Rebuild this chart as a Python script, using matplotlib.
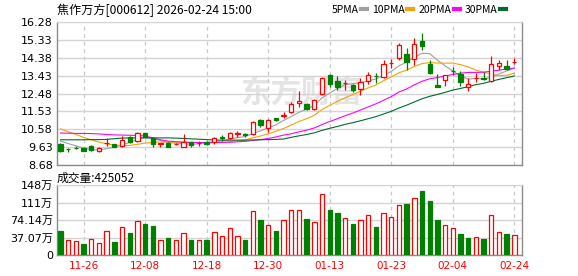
import matplotlib
matplotlib.use("Agg")
import matplotlib.pyplot as plt
import numpy as np

plt.rcParams['font.family'] = ['DejaVu Sans', 'Noto Sans CJK SC']

# trading days shown (MM-DD)
dates = ['11-21', '11-24', '11-25', '11-26', '11-27', '11-28', '12-01', '12-02', '12-03', '12-04',
         '12-05', '12-08', '12-09', '12-10', '12-11', '12-12', '12-15', '12-16', '12-17', '12-18',
         '12-19', '12-22', '12-23', '12-24', '12-25', '12-26', '12-29', '12-30', '12-31', '01-05',
         '01-06', '01-07', '01-08', '01-09', '01-12', '01-13', '01-14', '01-15', '01-16', '01-19',
         '01-20', '01-21', '01-22', '01-23', '01-26', '01-27', '01-28', '01-29', '01-30', '02-02',
         '02-03', '02-04', '02-05', '02-06', '02-09', '02-10', '02-11', '02-12', '02-13', '02-24']

opens = [9.82, 9.53, 9.60, 9.56, 9.68, 9.43, 9.84, 9.79, 9.71, 10.18,
         9.95, 10.36, 10.14, 9.82, 9.86, 9.80, 9.66, 9.88, 9.84, 9.92,
         9.91, 10.15, 10.14, 10.34, 10.32, 10.32, 11.06, 10.62, 11.16, 11.30,
         11.50, 11.95, 11.91, 11.63, 12.44, 13.45, 13.15, 13.02, 12.92, 12.72,
         13.16, 13.43, 13.34, 14.08, 14.35, 14.57, 14.34, 15.27, 14.03, 12.93,
         13.19, 13.70, 13.50, 12.80, 13.30, 13.33, 13.15, 13.95, 13.93, 14.14]
highs = [9.86, 9.60, 9.68, 9.62, 9.74, 9.65, 10.09, 9.81, 10.21, 10.22,
         10.42, 10.40, 10.18, 9.85, 9.88, 9.86, 10.35, 9.92, 9.96, 9.98,
         10.16, 10.26, 10.44, 10.48, 10.40, 11.02, 11.12, 11.15, 11.20, 11.52,
         12.03, 12.60, 11.98, 12.18, 13.37, 13.54, 13.40, 13.22, 12.98, 13.30,
         13.63, 13.57, 14.28, 14.30, 15.17, 14.92, 15.45, 15.70, 14.25, 13.50,
         13.47, 13.89, 13.68, 13.33, 13.57, 13.63, 14.46, 14.28, 14.28, 14.39]
lows = [9.36, 9.36, 9.52, 9.41, 9.43, 9.35, 9.71, 9.64, 9.65, 9.87,
        9.90, 10.15, 9.62, 9.62, 9.63, 9.76, 9.62, 9.66, 9.70, 9.74,
        9.80, 9.96, 10.06, 10.18, 10.18, 10.28, 10.72, 10.44, 11.00, 11.20,
        11.45, 11.77, 11.62, 11.58, 12.42, 12.83, 12.66, 12.64, 12.58, 12.42,
        13.00, 13.04, 13.28, 13.82, 14.28, 13.74, 13.98, 14.80, 13.50, 12.82,
        12.87, 13.45, 12.88, 12.62, 13.10, 13.18, 13.10, 13.75, 13.72, 14.03]
closes = [9.40, 9.51, 9.58, 9.44, 9.48, 9.58, 9.87, 9.66, 10.00, 9.92,
          10.38, 10.18, 9.80, 9.83, 9.65, 9.82, 9.90, 9.75, 9.86, 9.80,
          10.09, 10.12, 10.36, 10.37, 10.29, 10.97, 10.80, 11.06, 11.05, 11.34,
          11.91, 12.07, 11.68, 12.12, 13.33, 12.96, 12.83, 13.05, 12.66, 13.09,
          13.46, 13.40, 14.06, 14.12, 15.07, 14.16, 15.13, 14.99, 13.58, 12.84,
          13.45, 13.68, 13.10, 13.01, 13.32, 13.23, 14.03, 14.11, 13.76, 14.16]
prev_close = 9.90  # close of the day before the window

# volume in 万 (10k shares)
volume = [51.5, 31.8, 29.7, 23.3, 33.9, 25.4, 50.8, 28.2, 59.3, 46.6,
          72.0, 65.7, 61.4, 31.8, 36.0, 31.8, 46.6, 32.5, 32.5, 32.5,
          48.7, 40.2, 57.2, 40.2, 32.5, 93.2, 74.8, 63.5, 51.5, 74.1,
          95.3, 95.3, 76.2, 69.9, 129.2, 95.3, 89.0, 77.7, 65.7, 74.1,
          84.0, 59.3, 88.3, 79.8, 105.2, 108.0, 120.0, 135.6, 114.4, 74.1,
          62.8, 56.5, 44.5, 36.0, 37.4, 33.9, 84.0, 48.0, 44.5, 42.5052]

# moving averages as drawn on the chart
ma5 = [9.95, 9.82, 9.70, 9.58, 9.50, 9.48, 9.55, 9.62, 9.75, 9.88,
       10.05, 10.15, 10.08, 9.98, 9.88, 9.84, 9.80, 9.78, 9.81, 9.87,
       9.92, 9.96, 10.05, 10.14, 10.19, 10.36, 10.49, 10.66, 10.81, 11.05,
       11.25, 11.48, 11.65, 11.85, 12.25, 12.50, 12.75, 12.95, 13.00, 13.05,
       13.15, 13.25, 13.45, 13.65, 13.95, 14.15, 14.40, 14.62, 14.60, 14.25,
       13.95, 13.68, 13.40, 13.25, 13.28, 13.26, 13.33, 13.52, 13.68, 13.83]
ma10 = [10.60, 10.45, 10.30, 10.15, 10.02, 9.90, 9.80, 9.74, 9.71, 9.72,
        9.78, 9.84, 9.88, 9.90, 9.90, 9.89, 9.88, 9.88, 9.87, 9.87,
        9.86, 9.88, 9.92, 9.97, 10.02, 10.12, 10.22, 10.34, 10.47, 10.62,
        10.80, 10.99, 11.14, 11.32, 11.63, 11.85, 12.06, 12.25, 12.42, 12.60,
        12.78, 12.93, 13.16, 13.36, 13.58, 13.72, 13.92, 14.07, 14.12, 14.10,
        14.09, 14.10, 14.01, 13.90, 13.72, 13.62, 13.51, 13.43, 13.45, 13.56]
ma20 = [10.38, 10.37, 10.36, 10.36, 10.35, 10.33, 10.30, 10.28, 10.27, 10.26,
        10.25, 10.22, 10.12, 10.02, 9.95, 9.92, 9.90, 9.88, 9.87, 9.87,
        9.88, 9.88, 9.89, 9.91, 9.94, 9.98, 10.03, 10.09, 10.17, 10.27,
        10.34, 10.44, 10.53, 10.65, 10.83, 10.99, 11.14, 11.30, 11.44, 11.60,
        11.77, 11.93, 12.12, 12.31, 12.56, 12.72, 12.94, 13.13, 13.26, 13.33,
        13.41, 13.49, 13.56, 13.60, 13.60, 13.61, 13.67, 13.72, 13.78, 13.83]
ma30 = [10.02, 10.02, 10.02, 10.02, 10.03, 10.03, 10.04, 10.08, 10.11, 10.12,
        10.12, 10.12, 10.12, 10.12, 10.12, 10.11, 10.09, 10.07, 10.05, 10.03,
        10.01, 10.00, 10.00, 10.00, 10.00, 10.01, 10.02, 10.03, 10.04, 10.06,
        10.15, 10.23, 10.30, 10.39, 10.52, 10.63, 10.73, 10.84, 10.93, 11.03,
        11.14, 11.25, 11.39, 11.53, 11.71, 11.86, 12.03, 12.20, 12.33, 12.43,
        12.54, 12.66, 12.75, 12.84, 12.95, 13.02, 13.13, 13.23, 13.32, 13.41]

price_ticks = [8.68, 9.63, 10.58, 11.53, 12.48, 13.43, 14.38, 15.33, 16.28]
vol_ticks = [0, 37.07, 74.14, 111.21, 148.28]
vol_tick_labels = ['0', '37.07万', '74.14万', '111万', '148万']

RED = '#ff0000'
GREEN = '#008000'
GRID = '#d4d4d4'
SPINE = '#8c8c8c'
CJK = ['Noto Sans CJK SC', 'DejaVu Sans']

o = np.array(opens)
h = np.array(highs)
l = np.array(lows)
c = np.array(closes)
x = np.arange(len(dates))
up = c >= o
prev = np.concatenate([[prev_close], c[:-1]])
vol_up = c >= prev

fig = plt.figure(figsize=(5.78, 2.76), dpi=100)
ax = fig.add_axes([57 / 578, 1 - 165 / 276, 465 / 578, 143 / 276])
axv = fig.add_axes([57 / 578, 1 - 255 / 276, 465 / 578, 70 / 276])

date_ticks = x[3::8]

for a in (ax, axv):
    a.set_xlim(-0.455, 60.0)
    a.set_xticks(date_ticks)
    a.grid(axis='y', color=GRID, linewidth=1.0, zorder=0)
    a.grid(axis='x', color='#c8c8c8', linewidth=0.9, linestyle=(0, (3, 3)), zorder=0)
    a.tick_params(length=0, labelsize=8, pad=3, colors='#000000')
    for s in ('left', 'right', 'bottom'):
        a.spines[s].set_color(SPINE)
        a.spines[s].set_linewidth(1.0)
    a.spines['top'].set_color(GRID)
    a.set_axisbelow(True)

# watermark
ax.text((240 - 57) / 465, 0.51, '东方财富', transform=ax.transAxes, fontsize=22,
        family=['Noto Sans CJK SC'], fontweight='bold', color='#e4e4e4',
        ha='left', va='center', zorder=0.5)

# price panel
ax.set_ylim(price_ticks[0], price_ticks[-1])
ax.set_yticks(price_ticks)
ax.set_yticklabels([f'{t:.2f}' for t in price_ticks])
ax.tick_params(axis='x', labelbottom=False)

ax.plot(x, ma5, color='#a0a0a0', lw=0.8, zorder=2)
ax.plot(x, ma10, color='#f5a300', lw=0.8, zorder=2)
ax.plot(x, ma20, color='#ff00ff', lw=0.8, zorder=2)
ax.plot(x, ma30, color='#006b2e', lw=0.8, zorder=2)

cols = np.where(up, RED, GREEN)
ax.vlines(x, l, h, colors=cols, lw=0.9, zorder=3)
body_lo = np.minimum(o, c)
body_h = np.maximum(np.abs(c - o), 0.005)
ax.bar(x, body_h, bottom=body_lo, width=0.56,
       color=np.where(up, 'white', GREEN), edgecolor=cols, linewidth=0.9, zorder=4)

# volume panel
vcols = np.where(vol_up, RED, GREEN)
axv.bar(x, volume, width=0.57, color=np.where(vol_up, 'white', GREEN),
        edgecolor=vcols, linewidth=0.9, zorder=3)
axv.set_ylim(0, vol_ticks[-1])
axv.set_yticks(vol_ticks)
axv.set_yticklabels(vol_tick_labels)
axv.set_xticklabels([dates[i] for i in date_ticks])
axv.tick_params(axis='x', colors=RED, labelsize=7.5, pad=4)

# header texts
fig.text(57 / 578, 1 - 10 / 276, '焦作万方[000612] 2026-02-24 15:00',
         family=CJK, fontsize=8.7, va='center', ha='left')
fig.text(57 / 578, 1 - 178 / 276, '成交量:425052',
         family=CJK, fontsize=8.5, va='center', ha='left')

handles = [plt.Line2D([], [], color=col, lw=3) for col in ('#a0a0a0', '#f5a300', '#ff00ff', '#006b2e')]
fig.legend(handles, ['5PMA', '10PMA', '20PMA', '30PMA'], loc='center right',
           bbox_to_anchor=(511 / 578, 1 - 10 / 276), ncol=4, frameon=False,
           markerfirst=False, handlelength=0.55, handletextpad=0.25, columnspacing=0.5,
           borderpad=0, prop={'family': CJK, 'size': 7.5})

fig.savefig('out.png', dpi=100)
